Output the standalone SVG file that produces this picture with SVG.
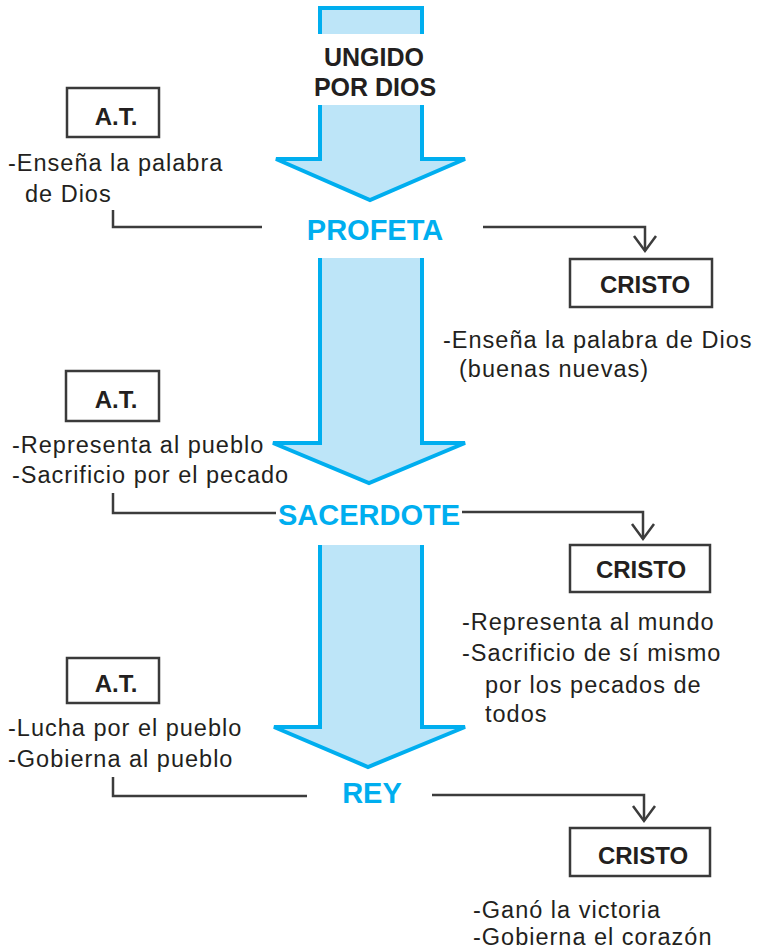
<svg xmlns="http://www.w3.org/2000/svg" width="757" height="951" viewBox="0 0 757 951">
<style>
.shaft{fill:#bde5f8;stroke:none}
.edge{fill:none;stroke:#00aeef;stroke-width:4;stroke-linejoin:miter}
.box{fill:#fff;stroke:#3a3a3a;stroke-width:2.5}
.lbl{font-family:"Liberation Sans",Arial,sans-serif;font-weight:bold;font-size:24px;fill:#231f20}
.big{font-family:"Liberation Sans",Arial,sans-serif;font-weight:bold;font-size:25px;fill:#231f20}
.blue{font-family:"Liberation Sans",Arial,sans-serif;font-weight:bold;font-size:29px;fill:#00aeef}
.txt{font-family:"Liberation Sans",Arial,sans-serif;font-size:23.5px;letter-spacing:1px;fill:#231f20}
.conn{fill:none;stroke:#3c3c3c;stroke-width:2.5}
</style>
<rect width="757" height="951" fill="#fff"/>
<g id="arrow1">
<polygon class="shaft" points="320,8 422,8 422,159 465,159 370,200 276,159 320,159"/>
<polygon class="edge" points="320,8 422,8 422,159 465,159 370,200 276,159 320,159"/>
<rect x="314" y="34" width="114" height="71" fill="#fff"/>
<text class="big" x="374" y="66" text-anchor="middle">UNGIDO</text>
<text class="big" x="375" y="96" text-anchor="middle">POR DIOS</text>
</g>
<g id="profeta">
<text class="blue" x="375" y="240" text-anchor="middle">PROFETA</text>
</g>
<g id="arrow2">
<polygon class="shaft" points="320,258 422,258 422,443 465,443 369,483 273,443 320,443"/>
<polyline class="edge" points="320,258 320,443 273,443 369,483 465,443 422,443 422,258"/>
</g>
<g id="sacerdote">
<text class="blue" x="369" y="525" text-anchor="middle">SACERDOTE</text>
</g>
<g id="arrow3">
<polygon class="shaft" points="320,545 422,545 422,727 465,727 368,767 274,727 320,727"/>
<polyline class="edge" points="320,545 320,727 274,727 368,767 465,727 422,727 422,545"/>
</g>
<g id="rey">
<text class="blue" x="372" y="803" text-anchor="middle">REY</text>
</g>
<g id="at1">
<rect class="box" x="67" y="88" width="92" height="49"/>
<text class="lbl" x="116" y="125" text-anchor="middle">A.T.</text>
<text class="txt" x="8" y="171">-Enseña la palabra</text>
<text class="txt" x="25" y="202">de Dios</text>
</g>
<g id="cristo1">
<rect class="box" x="570" y="259" width="142" height="48"/>
<text class="lbl" x="645" y="293" text-anchor="middle">CRISTO</text>
<text class="txt" x="443" y="348">-Enseña la palabra de Dios</text>
<text class="txt" x="459" y="377">(buenas nuevas)</text>
</g>
<g id="at2">
<rect class="box" x="66" y="371" width="93" height="50"/>
<text class="lbl" x="116" y="408" text-anchor="middle">A.T.</text>
<text class="txt" x="12" y="453">-Representa al pueblo</text>
<text class="txt" x="12" y="483">-Sacrificio por el pecado</text>
</g>
<g id="cristo2">
<rect class="box" x="570" y="545" width="140" height="47"/>
<text class="lbl" x="641" y="578" text-anchor="middle">CRISTO</text>
<text class="txt" x="462" y="630">-Representa al mundo</text>
<text class="txt" x="462" y="661">-Sacrificio de sí mismo</text>
<text class="txt" x="485" y="693">por los pecados de</text>
<text class="txt" x="485" y="722">todos</text>
</g>
<g id="at3">
<rect class="box" x="67" y="658" width="92" height="45"/>
<text class="lbl" x="116" y="692" text-anchor="middle">A.T.</text>
<text class="txt" x="8" y="736">-Lucha por el pueblo</text>
<text class="txt" x="8" y="767">-Gobierna al pueblo</text>
</g>
<g id="cristo3">
<rect class="box" x="570" y="828" width="140" height="48"/>
<text class="lbl" x="643" y="864" text-anchor="middle">CRISTO</text>
<text class="txt" x="473" y="918">-Ganó la victoria</text>
<text class="txt" x="473" y="945">-Gobierna el corazón</text>
</g>
<g id="connectors">
<polyline class="conn" points="113,210 113,227 262,227"/>
<polyline class="conn" points="483,227 645,227 645,251"/>
<polyline class="conn" points="634,236 645,251 656,236"/>
<polyline class="conn" points="113,493 113,513 276,513"/>
<polyline class="conn" points="462,512 643,512 643,539"/>
<polyline class="conn" points="632,524 643,539 654,524"/>
<polyline class="conn" points="113,777 113,796 307,796"/>
<polyline class="conn" points="432,795 644,795 644,821"/>
<polyline class="conn" points="633,806 644,821 655,806"/>
</g>
</svg>
